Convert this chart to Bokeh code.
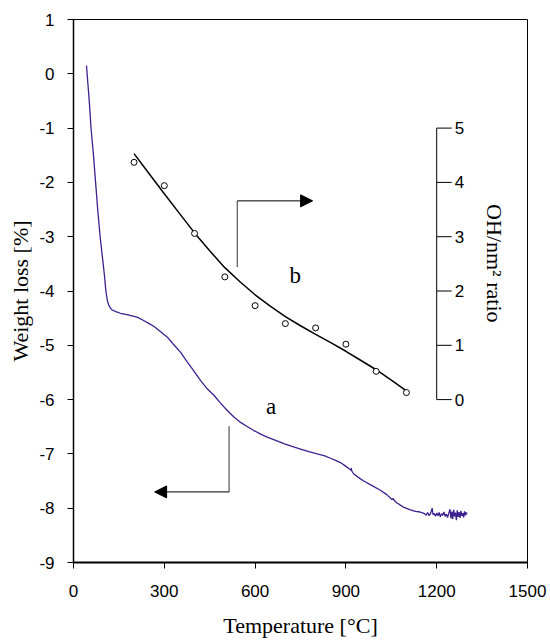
import math
from bokeh.plotting import figure
from bokeh.models import Range1d, FixedTicker, Arrow, NormalHead, Label
from bokeh.core.properties import value
from bokeh.embed import file_html
from bokeh.resources import INLINE

# ---- data ----
# curve a: TGA weight loss [%] vs temperature [deg C]
temp_a = [43, 45, 52, 58, 66, 73, 80, 88, 96, 102, 107, 112, 117, 123, 128, 140, 155, 180,
          210, 227, 250, 265, 290, 310, 330, 354, 375, 392, 420, 440, 464, 485, 508, 530,
          552, 575, 596, 620, 640, 668, 695, 722, 750, 778, 805, 828, 849, 866, 882, 900,
          912, 917, 918, 919, 926, 948, 959, 985, 1014, 1035, 1052, 1056, 1060, 1068, 1090,
          1113, 1130, 1145, 1155, 1160, 1165, 1170, 1175, 1180, 1185, 1188, 1192, 1196, 1200,
          1204, 1208, 1212, 1216, 1220, 1224, 1228, 1232, 1236, 1240, 1244, 1247, 1250, 1253,
          1256, 1259, 1262, 1265, 1268, 1271, 1274, 1277, 1280, 1283, 1286, 1289, 1292, 1295,
          1298, 1300]
weight_a = [0.15, 0.0, -0.5, -1.0, -1.5, -2.0, -2.5, -3.0, -3.4, -3.7, -4.0, -4.18, -4.27,
            -4.32, -4.35, -4.38, -4.41, -4.44, -4.48, -4.53, -4.60, -4.65, -4.76, -4.85,
            -4.98, -5.13, -5.30, -5.43, -5.65, -5.79, -5.92, -6.06, -6.20, -6.32, -6.42,
            -6.50, -6.57, -6.64, -6.69, -6.75, -6.81, -6.86, -6.91, -6.96, -7.00, -7.03,
            -7.08, -7.12, -7.16, -7.23, -7.28, -7.30, -7.26, -7.31, -7.37, -7.46, -7.50,
            -7.58, -7.67, -7.75, -7.84, -7.82, -7.86, -7.90, -7.98, -8.03, -8.06, -8.07,
            -8.09, -8.10, -8.13, -8.08, -8.14, -8.09, -8.00, -8.12, -8.10, -8.15, -8.09,
            -8.14, -8.08, -8.16, -8.10, -8.13, -8.07, -8.15, -8.11, -8.17, -8.09, -8.02,
            -8.19, -8.06, -8.20, -8.03, -8.15, -8.08, -8.22, -8.04, -8.16, -8.07, -8.18,
            -8.05, -8.14, -8.09, -8.17, -8.06, -8.13, -8.08, -8.11]

# curve b: OH/nm2 ratio (points and fitted line)
temp_b = [200, 300, 400, 500, 600, 700, 800, 900, 1000, 1100]
ratio_b = [4.37, 3.94, 3.06, 2.26, 1.73, 1.40, 1.32, 1.02, 0.52, 0.13]
fit_temp = [200, 250, 300, 350, 400, 450, 500, 550, 600, 650, 700, 750, 800, 850, 900,
            950, 1000, 1050, 1100]
fit_ratio = [4.53, 4.16, 3.79, 3.43, 3.07, 2.74, 2.43, 2.17, 1.93, 1.72, 1.53, 1.36, 1.20,
             1.05, 0.89, 0.72, 0.55, 0.36, 0.16]

x_ticks = [0, 300, 600, 900, 1200, 1500]
y_ticks = [-9, -8, -7, -6, -5, -4, -3, -2, -1, 0, 1]
ratio_ticks = [0, 1, 2, 3, 4, 5]
ratio_axis_temp = 1200

SANS = "Liberation Sans"
SERIF = "Liberation Serif"

p = figure(width=548, height=642, output_backend="svg", toolbar_location=None,
           x_range=Range1d(0, 1500), y_range=Range1d(-9, 1),
           min_border_left=73, min_border_right=21, min_border_top=19,
           min_border_bottom=80)
p.extra_y_ranges = {"ratio": Range1d(-3, 7)}

p.grid.visible = False
p.outline_line_color = "black"
p.outline_line_width = 1
p.background_fill_color = "white"
p.border_fill_color = "white"

for ax in (p.xaxis[0], p.yaxis[0]):
    ax.major_tick_in = 0
    ax.major_tick_out = 6
    ax.minor_tick_in = 0
    ax.minor_tick_out = 0
    ax.axis_line_color = "black"
    ax.major_tick_line_color = "black"
    ax.major_label_text_font = SANS
    ax.major_label_text_font_size = "17px"
    ax.major_label_text_color = "black"
    ax.axis_label_text_font = SERIF
    ax.axis_label_text_font_style = "normal"
    ax.axis_label_text_font_size = "22px"
    ax.axis_label_text_color = "black"

p.xaxis.ticker = FixedTicker(ticks=x_ticks)
p.yaxis.ticker = FixedTicker(ticks=y_ticks)
p.yaxis.major_label_overrides = {t: str(t) for t in y_ticks}
p.xaxis.axis_label = "Temperature [°C]"
p.yaxis.axis_label = "Weight loss [%]"
p.xaxis.axis_line_width = 2
p.yaxis.axis_line_width = 1.5
p.xaxis.major_label_standoff = 16
p.xaxis.axis_label_standoff = 13
p.yaxis.major_label_standoff = 13
p.yaxis.axis_label_standoff = 3

# curve a
p.line(temp_a, weight_a, line_color="#3d1f8f", line_width=1.3)

# curve b
p.line(fit_temp, fit_ratio, line_color="black", line_width=1.5, y_range_name="ratio")
p.scatter(temp_b, ratio_b, marker="circle", size=6, fill_color="white",
          line_color="black", line_width=1, y_range_name="ratio")

# inner right axis for the ratio
p.line([ratio_axis_temp, ratio_axis_temp], [ratio_ticks[0], ratio_ticks[-1]],
       line_color="black", line_width=1, y_range_name="ratio")
p.ray(x=[ratio_axis_temp] * len(ratio_ticks), y=ratio_ticks, length=15,
      length_units="screen", angle=0, line_color="black", line_width=1,
      y_range_name="ratio")
p.text(x=[ratio_axis_temp] * len(ratio_ticks), y=ratio_ticks,
       text=[str(t) for t in ratio_ticks], x_offset=18,
       text_align="left", text_baseline="middle", text_font=value(SANS),
       text_font_size="17px", text_color="black", y_range_name="ratio")
p.add_layout(Label(x=1391, y=2.51, y_range_name="ratio", text="OH/nm² ratio",
                   angle=-math.pi / 2, text_align="center", text_baseline="middle",
                   text_font=SERIF, text_font_size="22px", text_color="black"))

# arrows
p.line([514, 514], [-6.49, -7.70], line_color="#333333", line_width=1)
p.add_layout(Arrow(end=NormalHead(size=12, fill_color="black", line_color="black"),
                   x_start=514, y_start=-7.70, x_end=268, y_end=-7.70,
                   line_color="black", line_width=1))
p.line([541, 541], [-3.56, -2.34], line_color="#333333", line_width=1)
p.add_layout(Arrow(end=NormalHead(size=12, fill_color="black", line_color="black"),
                   x_start=541, y_start=-2.34, x_end=790, y_end=-2.34,
                   line_color="black", line_width=1))

# curve labels
p.add_layout(Label(x=653, y=-6.13, text="a", text_align="center", text_baseline="middle",
                   text_font=SERIF, text_font_size="23px", text_color="black"))
p.add_layout(Label(x=733, y=-3.71, text="b", text_align="center", text_baseline="middle",
                   text_font=SERIF, text_font_size="23px", text_color="black"))

open("out.html", "w").write(file_html(p, INLINE))
